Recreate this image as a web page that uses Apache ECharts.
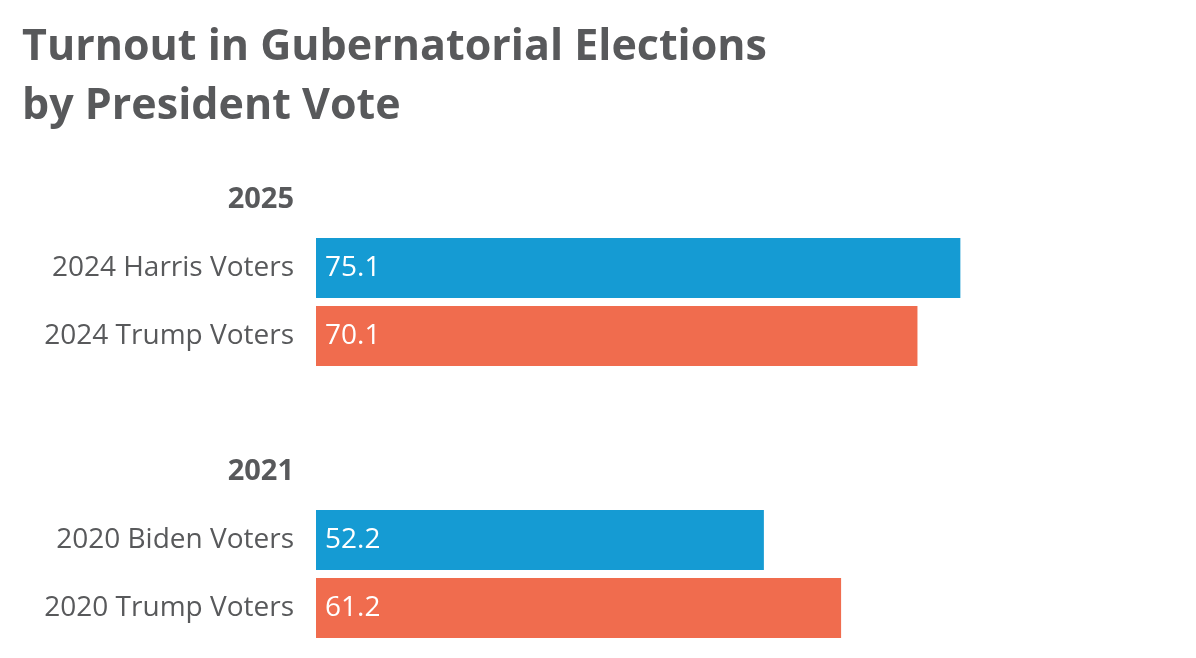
<!DOCTYPE html>
<html><head><meta charset="utf-8">
<script src="https://cdn.jsdelivr.net/npm/echarts@6/dist/echarts.min.js"></script>
<style>html,body{margin:0;padding:0;background:#fff}#c{width:1196px;height:658px}</style>
</head><body><div id="c"></div>
<script>
const categories = ['2025', '2024 Harris Voters', '2024 Trump Voters', '', '2021', '2020 Biden Voters', '2020 Trump Voters'];
const headers = ['2025', '2021'];
const values = [null, 75.1, 70.1, null, null, 52.2, 61.2];
const party = ['', 'D', 'R', '', '', 'D', 'R'];
const partyColors = { D: '#159BD3', R: '#F06C4E' };

const textColor = '#58595B';
const font = 'Open Sans';
const chart = echarts.init(document.getElementById('c'));
chart.setOption({
  animation: false,
  backgroundColor: '#fff',
  title: {
    text: 'Turnout in Gubernatorial Elections\nby President Vote',
    left: 17, top: 13,
    textStyle: { fontFamily: font, fontWeight: 'bold', fontSize: 43, lineHeight: 59, color: textColor }
  },
  grid: { left: 316, right: 22, top: 166, bottom: 16, containLabel: false },
  xAxis: { type: 'value', min: 0, max: 100, show: false },
  yAxis: {
    type: 'category', inverse: true, data: categories,
    axisLine: { show: false }, axisTick: { show: false },
    axisLabel: {
      margin: 22,
      formatter: v => headers.includes(v) ? '{h|' + v + '}' : '{n|' + v + '}',
      rich: {
        h: { fontFamily: font, fontWeight: 'bold', fontSize: 29, color: textColor },
        n: { fontFamily: font, fontSize: 28, color: textColor }
      }
    }
  },
  series: [{
    type: 'bar', barWidth: 60,
    data: values.map((v, i) => v == null ? null : { value: v, itemStyle: { color: partyColors[party[i]] } }),
    label: {
      show: true, position: 'insideLeft', distance: 9,
      color: '#fff', fontFamily: font, fontSize: 28,
      formatter: p => p.value.toFixed(1)
    }
  }]
});
</script></body></html>
